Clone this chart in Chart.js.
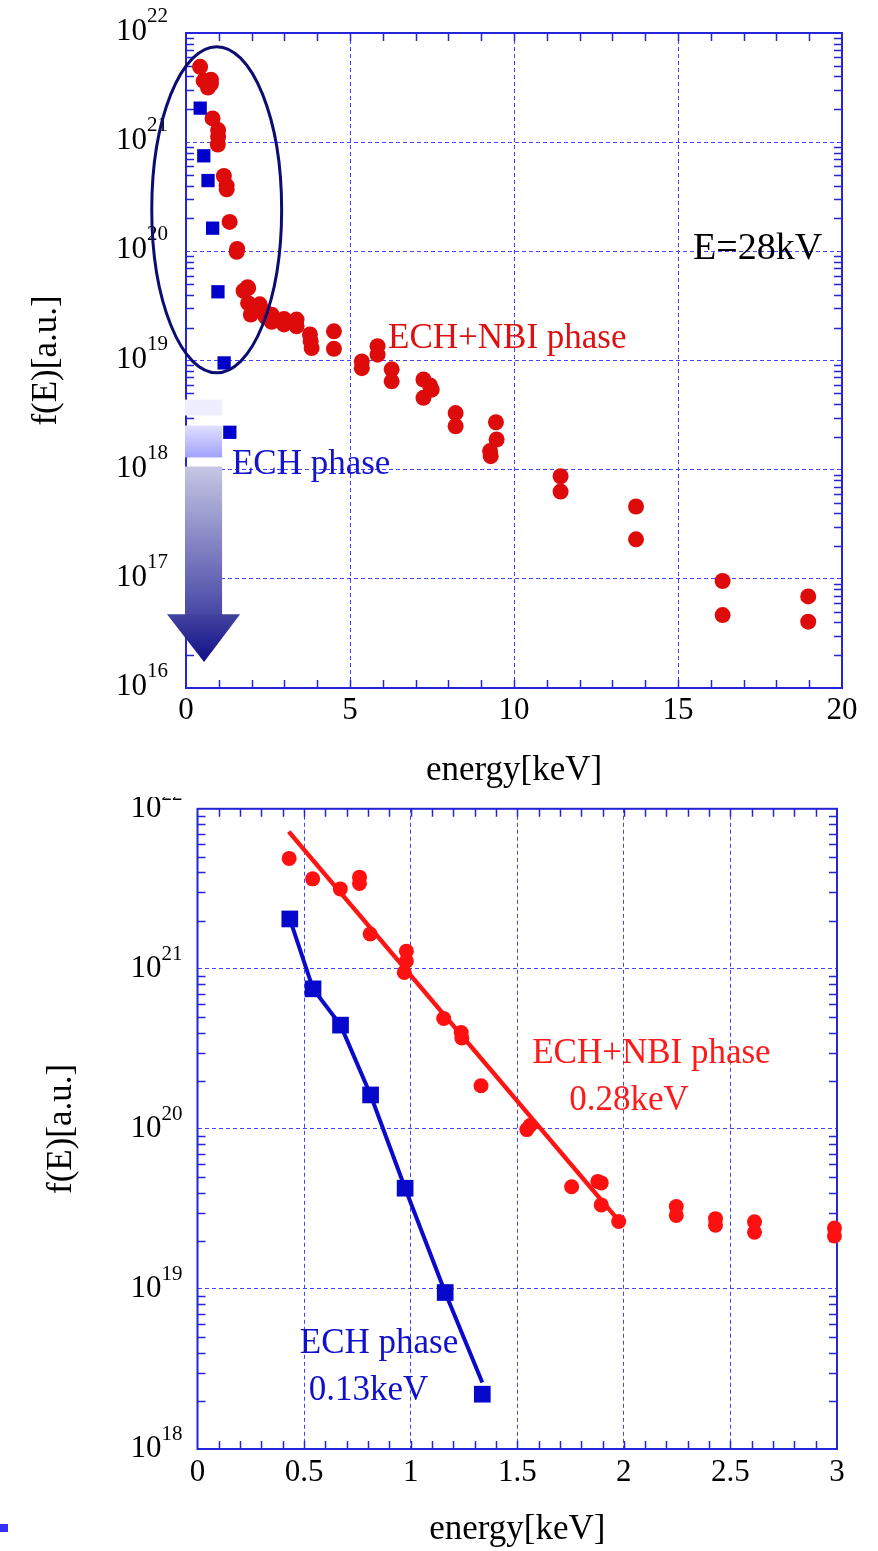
<!DOCTYPE html>
<html><head><meta charset="utf-8">
<script src="https://cdn.jsdelivr.net/npm/chart.js@4.4.1/dist/chart.umd.min.js"></script>
<style>
html,body{margin:0;padding:0;background:#fff;width:878px;height:1551px;overflow:hidden;position:relative;}
#c1{position:absolute;left:0;top:0;}
#c2{position:absolute;left:0;top:797px;}
#dot{position:absolute;left:0;top:1524px;width:8px;height:8px;background:#3030ff;}
</style></head><body>
<canvas id="c1" width="878" height="797"></canvas>
<canvas id="c2" width="878" height="754"></canvas>
<div id="dot"></div>
<script>
// ---------- data ----------
// ECH+NBI phase (red circles): energy [keV] and f(E) [a.u.]
const nbiEnergy = [0.43, 0.54, 0.67, 0.76, 0.76, 0.81, 0.98, 0.98, 0.97, 1.155, 1.237, 1.24, 1.33, 1.545, 1.56,
  1.755, 1.878, 1.894, 1.894, 1.976, 2.246, 2.246, 2.43, 2.43, 2.613, 2.613, 2.988, 2.988, 3.37, 3.37,
  3.78, 3.80, 3.83, 4.51, 4.51, 5.36, 5.36, 5.84, 5.84, 6.27, 6.27, 7.24, 7.24, 7.44, 7.49, 8.22, 8.22,
  9.45, 9.47, 9.27, 9.29, 11.42, 11.42, 13.72, 13.72, 16.36, 16.36, 18.97, 18.97];
const nbiF = [4.9e21, 3.65e21, 3.16e21, 3.74e21, 3.42e21, 1.65e21, 1.29e21, 1.12e21, 9.5e20, 4.9e20, 4.0e20, 3.7e20, 1.86e20, 9.9e19, 1.05e20,
  4.35e19, 4.7e19, 4.6e19, 3.35e19, 2.64e19, 3.27e19, 2.88e19, 2.75e19, 2.5e19, 2.63e19, 2.26e19, 2.4e19, 2.14e19, 2.37e19, 2.06e19,
  1.73e19, 1.5e19, 1.3e19, 1.85e19, 1.28e19, 9.8e18, 8.5e18, 1.35e19, 1.13e19, 8.3e18, 6.45e18, 6.7e18, 4.55e18, 5.9e18, 5.4e18, 3.3e18, 2.5e18,
  2.72e18, 1.89e18, 1.48e18, 1.33e18, 8.7e17, 6.3e17, 4.6e17, 2.3e17, 9.55e16, 4.66e16, 6.9e16, 4.05e16];
// ECH phase (blue squares)
const echEnergy = [0.433, 0.542, 0.671, 0.812, 0.974, 1.162, 1.336];
const echF = [2.05e21, 7.5e20, 4.45e20, 1.63e20, 4.26e19, 9.5e18, 2.2e18];
// fitted lines (bottom panel)
const nbiFitEnergy = [0.428, 1.96];
const nbiFitF = [7.2e21, 2.83e19];
const echFitEnergy = [0.433, 0.542, 0.671, 0.812, 0.974, 1.162, 1.336];
const echFitF = [2.05e21, 7.5e20, 4.45e20, 1.63e20, 4.26e19, 9.5e18, 2.6e18];
// tick labels
const topXTicks = [0, 5, 10, 15, 20];
const topXLabels = ['0', '5', '10', '15', '20'];
const botXTicks = [0, 0.5, 1, 1.5, 2, 2.5, 3];
const botXLabels = ['0', '0.5', '1', '1.5', '2', '2.5', '3'];
const topYExps = [16, 17, 18, 19, 20, 21, 22];
const botYExps = [18, 19, 20, 21, 22];

// ---------- styling ----------
const SERIF = '"Liberation Serif","Times New Roman",serif';
const FRAME = '#2424d8';
const GRID = '#4444ff';

function pts(xs, ys, maxX) {
  const out = [];
  xs.forEach((x, i) => { if (x <= maxX) out.push({x: x, y: ys[i]}); });
  return out;
}

function makePlugin(o) {
  return {
    id: 'decor_' + o.name,
    beforeDatasetsDraw(chart) {
      const {ctx, chartArea: a, scales: {x, y}} = chart;
      ctx.save();
      ctx.strokeStyle = FRAME;
      ctx.lineWidth = 1.5;
      ctx.beginPath();
      const L = 8;
      for (let v = o.xMinorStep; v < o.xMax - 1e-9; v += o.xMinorStep) {
        const px = Math.round(x.getPixelForValue(v)) + 0.5;
        ctx.moveTo(px, a.bottom); ctx.lineTo(px, a.bottom - L);
        ctx.moveTo(px, a.top); ctx.lineTo(px, a.top + L);
      }
      for (let e = o.yExps[0]; e < o.yExps[o.yExps.length - 1]; e++) {
        for (let m = 2; m <= 9; m++) {
          const py = Math.round(y.getPixelForValue(m * Math.pow(10, e))) + 0.5;
          ctx.moveTo(a.left, py); ctx.lineTo(a.left + L, py);
          ctx.moveTo(a.right, py); ctx.lineTo(a.right - L, py);
        }
      }
      ctx.stroke();
      ctx.lineWidth = 2;
      ctx.strokeRect(a.left, a.top, a.right - a.left, a.bottom - a.top);
      ctx.restore();
    },
    afterDraw(chart) {
      const {ctx, chartArea: a, scales: {x, y}} = chart;
      ctx.save();
      // y tick labels with superscript exponents
      ctx.fillStyle = '#000';
      o.yExps.forEach(e => {
        const py = y.getPixelForValue(Math.pow(10, e));
        ctx.font = o.tickSize + 'px ' + SERIF;
        ctx.textAlign = 'right';
        ctx.textBaseline = 'alphabetic';
        ctx.fillText('10', a.left - o.supGap - o.supW, py + o.baseOff);
        ctx.font = o.supSize + 'px ' + SERIF;
        ctx.textAlign = 'left';
        ctx.fillText(String(e), a.left - o.supGap - o.supW, py - o.supOff);
      });
      ctx.restore();
      if (o.extra) o.extra(chart);
    }
  };
}

function txt(ctx, x, y, s, e, lg, color, size) {
  ctx.save();
  ctx.font = size + 'px ' + SERIF;
  ctx.fillStyle = color;
  ctx.textAlign = 'left';
  ctx.textBaseline = 'alphabetic';
  ctx.fillText(s, x.getPixelForValue(e), y.getPixelForValue(Math.pow(10, lg)));
  ctx.restore();
}

function topExtra(chart) {
  const {ctx, scales: {x, y}} = chart;
  const X = v => x.getPixelForValue(v);
  const Y = l => y.getPixelForValue(Math.pow(10, l));
  // ellipse around the low-energy part
  const cx = X(0.936), rx = X(0.936 + 1.98) - cx;
  const t = Y(21.875), b = Y(18.887);
  ctx.save();
  ctx.strokeStyle = '#0c0c72';
  ctx.lineWidth = 3;
  ctx.beginPath();
  ctx.ellipse(cx, (t + b) / 2, rx, (b - t) / 2, 0, 0, Math.PI * 2);
  ctx.stroke();
  // gradient arrow
  const sl = X(-0.03), sr = X(1.10);
  ctx.fillStyle = '#eeeeff';
  ctx.fillRect(sl, Y(18.642), sr - sl, Y(18.496) - Y(18.642));
  let g = ctx.createLinearGradient(0, Y(18.404), 0, Y(18.112));
  g.addColorStop(0, '#e0e0ff'); g.addColorStop(1, '#a2a2fc');
  ctx.fillStyle = g;
  ctx.fillRect(sl, Y(18.404), sr - sl, Y(18.112) - Y(18.404));
  g = ctx.createLinearGradient(0, Y(18.029), 0, Y(16.675));
  g.addColorStop(0, '#c6c6e4'); g.addColorStop(1, '#4848a6');
  ctx.fillStyle = g;
  ctx.fillRect(sl, Y(18.029), sr - sl, Y(16.675) - Y(18.029) + 1);
  g = ctx.createLinearGradient(0, Y(16.675), 0, Y(16.239));
  g.addColorStop(0, '#42429e'); g.addColorStop(1, '#10108a');
  ctx.fillStyle = g;
  ctx.beginPath();
  ctx.moveTo(X(-0.58), Y(16.675));
  ctx.lineTo(X(1.65), Y(16.675));
  ctx.lineTo(X(0.55), Y(16.239));
  ctx.closePath();
  ctx.fill();
  ctx.restore();
  txt(ctx, x, y, 'E=28kV', 15.46, 19.932, '#000', 38);
  txt(ctx, x, y, 'ECH+NBI phase', 6.16, 19.118, '#dd1111', 35);
  txt(ctx, x, y, 'ECH phase', 1.40, 17.956, '#1414cc', 35);
}

const topCfg = {
  type: 'scatter',
  data: {
    datasets: [
      {label: 'ECH phase', data: pts(echEnergy, echF, 99), pointStyle: 'rect', pointRadius: 9.4,
       backgroundColor: '#0000cc', borderColor: '#0000cc', borderWidth: 0, clip: false, order: 1},
      {label: 'ECH+NBI phase', data: pts(nbiEnergy, nbiF, 99), pointStyle: 'circle', pointRadius: 8,
       backgroundColor: '#de0b0b', borderColor: '#de0b0b', borderWidth: 0, clip: false, order: 2}
    ]
  },
  options: {
    responsive: false, animation: false, devicePixelRatio: 1,
    layout: {padding: {top: 33, right: 36, bottom: 0, left: 0}},
    plugins: {legend: {display: false}, tooltip: {enabled: false}},
    scales: {
      x: {
        type: 'linear', min: 0, max: 20,
        afterBuildTicks: s => { s.ticks = topXTicks.map(v => ({value: v})); },
        afterFit: s => { s.height = 109; },
        ticks: {color: '#000', font: {family: SERIF, size: 31}, padding: 4, maxRotation: 0, autoSkip: false,
          callback: (v, i) => topXLabels[i]},
        grid: {color: GRID, lineWidth: 1, drawTicks: false},
        border: {display: false, dash: [4, 3]},
        title: {display: true, text: 'energy[keV]', color: '#000', font: {family: SERIF, size: 35}, padding: {top: 0, bottom: 5}}
      },
      y: {
        type: 'logarithmic', min: 1e16, max: 1e22,
        afterBuildTicks: s => { s.ticks = topYExps.map(e => ({value: Math.pow(10, e)})); },
        afterFit: s => { s.width = 186; },
        ticks: {display: false},
        grid: {color: GRID, lineWidth: 1, drawTicks: false},
        border: {display: false, dash: [4, 3]},
        title: {display: true, text: 'f(E)[a.u.]', color: '#000', font: {family: SERIF, size: 35}, padding: {top: 26, bottom: 0}}
      }
    }
  },
  plugins: [makePlugin({name: 'top', xMinorStep: 1, xMax: 20, yExps: topYExps, tickSize: 31, supSize: 21,
    supGap: 16, supW: 23, baseOff: 7, supOff: 11, extra: topExtra})]
};

const botCfg = {
  type: 'scatter',
  data: {
    datasets: [
      {label: 'ECH phase', data: pts(echEnergy, echF, 3.05), pointStyle: 'rect', pointRadius: 11.8,
       backgroundColor: '#0808cc', borderColor: '#0808cc', borderWidth: 0, clip: false, order: 1},
      {label: 'ECH+NBI phase', data: pts(nbiEnergy, nbiF, 3.05), pointStyle: 'circle', pointRadius: 7.5,
       backgroundColor: '#ff1010', borderColor: '#ff1010', borderWidth: 0, clip: false, order: 2},
      {label: 'ECH fit 0.13keV', data: pts(echFitEnergy, echFitF, 3.05), showLine: true, pointRadius: 0,
       borderColor: '#0a0acc', borderWidth: 4, fill: false, order: 3},
      {label: 'ECH+NBI fit 0.28keV', data: pts(nbiFitEnergy, nbiFitF, 3.05), showLine: true, pointRadius: 0,
       borderColor: '#ff1414', borderWidth: 4.5, fill: false, order: 4}
    ]
  },
  options: {
    responsive: false, animation: false, devicePixelRatio: 1,
    layout: {padding: {top: 11.5, right: 41, bottom: 0, left: 0}},
    plugins: {legend: {display: false}, tooltip: {enabled: false}},
    scales: {
      x: {
        type: 'linear', min: 0, max: 3,
        afterBuildTicks: s => { s.ticks = botXTicks.map(v => ({value: v})); },
        afterFit: s => { s.height = 102; },
        ticks: {color: '#000', font: {family: SERIF, size: 31}, padding: 5, maxRotation: 0, autoSkip: false,
          callback: (v, i) => botXLabels[i]},
        grid: {color: GRID, lineWidth: 1, drawTicks: false},
        border: {display: false, dash: [4, 3]},
        title: {display: true, text: 'energy[keV]', color: '#000', font: {family: SERIF, size: 35}, padding: {top: 0, bottom: 0}}
      },
      y: {
        type: 'logarithmic', min: 1e18, max: 1e22,
        afterBuildTicks: s => { s.ticks = botYExps.map(e => ({value: Math.pow(10, e)})); },
        afterFit: s => { s.width = 197.5; },
        ticks: {display: false},
        grid: {color: GRID, lineWidth: 1, drawTicks: false},
        border: {display: false, dash: [4, 3]},
        title: {display: true, text: 'f(E)[a.u.]', color: '#000', font: {family: SERIF, size: 35}, padding: {top: 41, bottom: 0}}
      }
    }
  },
  plugins: [makePlugin({name: 'bot', xMinorStep: 0.1, xMax: 3, yExps: botYExps, tickSize: 31, supSize: 21,
    supGap: 17, supW: 19, baseOff: 8, supOff: 9,
    extra: chart => {
      const {ctx, scales: {x, y}} = chart;
      txt(ctx, x, y, 'ECH+NBI phase', 1.570, 20.4125, '#ff1a1a', 35);
      txt(ctx, x, y, '0.28keV', 1.744, 20.119, '#ff1a1a', 35);
      txt(ctx, x, y, 'ECH phase', 0.48, 18.6, '#1010cc', 35);
      txt(ctx, x, y, '0.13keV', 0.522, 18.306, '#1010cc', 35);
    }})]
};

new Chart(document.getElementById('c1'), topCfg);
new Chart(document.getElementById('c2'), botCfg);
</script></body></html>
